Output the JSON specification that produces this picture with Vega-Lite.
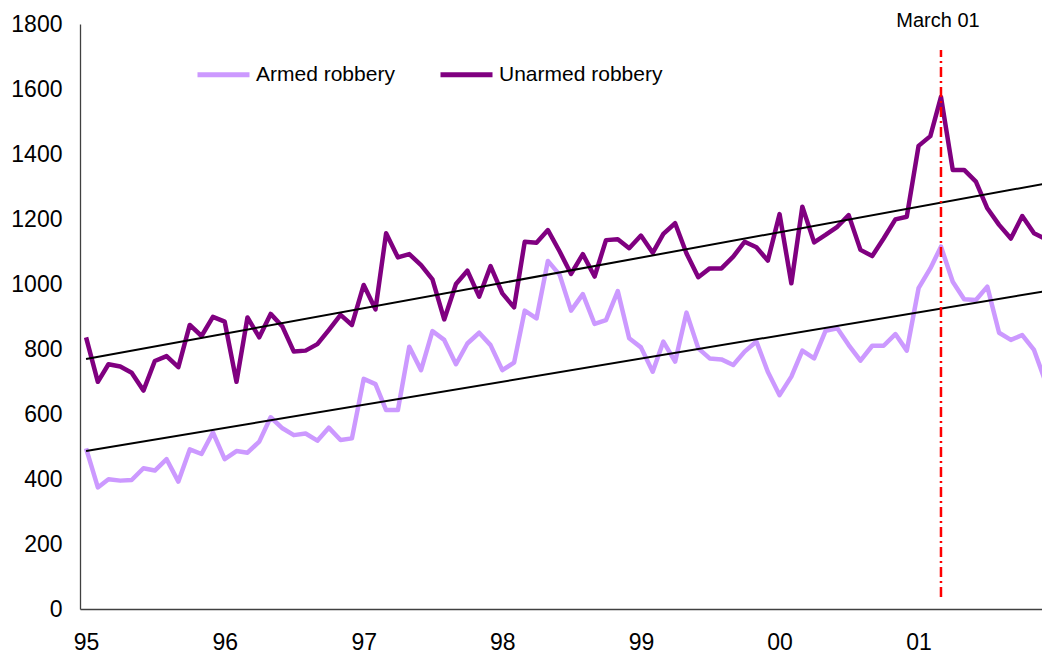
{
  "$schema": "https://vega.github.io/schema/vega-lite/v6.json",
  "width": 962,
  "height": 585,
  "autosize": {"type": "none"},
  "padding": {"left": 80, "top": 24, "right": 0, "bottom": 46},
  "background": "white",
  "config": {
    "view": {"stroke": null},
    "font": "Liberation Sans",
    "text": {"font": "Liberation Sans"}
  },
  "datasets": {
    "robbery": [
      {"date":"1995-01-01","series":"Armed robbery","value":494},{"date":"1995-02-01","series":"Armed robbery","value":374},{"date":"1995-03-01","series":"Armed robbery","value":399},{"date":"1995-04-01","series":"Armed robbery","value":395},{"date":"1995-05-01","series":"Armed robbery","value":397},{"date":"1995-06-01","series":"Armed robbery","value":433},{"date":"1995-07-01","series":"Armed robbery","value":426},{"date":"1995-08-01","series":"Armed robbery","value":461},{"date":"1995-09-01","series":"Armed robbery","value":392},{"date":"1995-10-01","series":"Armed robbery","value":491},{"date":"1995-11-01","series":"Armed robbery","value":477},{"date":"1995-12-01","series":"Armed robbery","value":543},
      {"date":"1996-01-01","series":"Armed robbery","value":461},{"date":"1996-02-01","series":"Armed robbery","value":486},{"date":"1996-03-01","series":"Armed robbery","value":481},{"date":"1996-04-01","series":"Armed robbery","value":515},{"date":"1996-05-01","series":"Armed robbery","value":590},{"date":"1996-06-01","series":"Armed robbery","value":556},{"date":"1996-07-01","series":"Armed robbery","value":535},{"date":"1996-08-01","series":"Armed robbery","value":540},{"date":"1996-09-01","series":"Armed robbery","value":518},{"date":"1996-10-01","series":"Armed robbery","value":558},{"date":"1996-11-01","series":"Armed robbery","value":520},{"date":"1996-12-01","series":"Armed robbery","value":525},
      {"date":"1997-01-01","series":"Armed robbery","value":708},{"date":"1997-02-01","series":"Armed robbery","value":692},{"date":"1997-03-01","series":"Armed robbery","value":612},{"date":"1997-04-01","series":"Armed robbery","value":612},{"date":"1997-05-01","series":"Armed robbery","value":807},{"date":"1997-06-01","series":"Armed robbery","value":735},{"date":"1997-07-01","series":"Armed robbery","value":855},{"date":"1997-08-01","series":"Armed robbery","value":828},{"date":"1997-09-01","series":"Armed robbery","value":753},{"date":"1997-10-01","series":"Armed robbery","value":817},{"date":"1997-11-01","series":"Armed robbery","value":850},{"date":"1997-12-01","series":"Armed robbery","value":812},
      {"date":"1998-01-01","series":"Armed robbery","value":735},{"date":"1998-02-01","series":"Armed robbery","value":758},{"date":"1998-03-01","series":"Armed robbery","value":918},{"date":"1998-04-01","series":"Armed robbery","value":894},{"date":"1998-05-01","series":"Armed robbery","value":1071},{"date":"1998-06-01","series":"Armed robbery","value":1028},{"date":"1998-07-01","series":"Armed robbery","value":918},{"date":"1998-08-01","series":"Armed robbery","value":969},{"date":"1998-09-01","series":"Armed robbery","value":877},{"date":"1998-10-01","series":"Armed robbery","value":889},{"date":"1998-11-01","series":"Armed robbery","value":978},{"date":"1998-12-01","series":"Armed robbery","value":833},
      {"date":"1999-01-01","series":"Armed robbery","value":805},{"date":"1999-02-01","series":"Armed robbery","value":730},{"date":"1999-03-01","series":"Armed robbery","value":823},{"date":"1999-04-01","series":"Armed robbery","value":761},{"date":"1999-05-01","series":"Armed robbery","value":912},{"date":"1999-06-01","series":"Armed robbery","value":802},{"date":"1999-07-01","series":"Armed robbery","value":771},{"date":"1999-08-01","series":"Armed robbery","value":768},{"date":"1999-09-01","series":"Armed robbery","value":751},{"date":"1999-10-01","series":"Armed robbery","value":792},{"date":"1999-11-01","series":"Armed robbery","value":823},{"date":"1999-12-01","series":"Armed robbery","value":730},
      {"date":"2000-01-01","series":"Armed robbery","value":658},{"date":"2000-02-01","series":"Armed robbery","value":715},{"date":"2000-03-01","series":"Armed robbery","value":795},{"date":"2000-04-01","series":"Armed robbery","value":771},{"date":"2000-05-01","series":"Armed robbery","value":856},{"date":"2000-06-01","series":"Armed robbery","value":864},{"date":"2000-07-01","series":"Armed robbery","value":812},{"date":"2000-08-01","series":"Armed robbery","value":764},{"date":"2000-09-01","series":"Armed robbery","value":810},{"date":"2000-10-01","series":"Armed robbery","value":810},{"date":"2000-11-01","series":"Armed robbery","value":846},{"date":"2000-12-01","series":"Armed robbery","value":795},
      {"date":"2001-01-01","series":"Armed robbery","value":987},{"date":"2001-02-01","series":"Armed robbery","value":1048},{"date":"2001-03-01","series":"Armed robbery","value":1115},{"date":"2001-04-01","series":"Armed robbery","value":1007},{"date":"2001-05-01","series":"Armed robbery","value":953},{"date":"2001-06-01","series":"Armed robbery","value":951},{"date":"2001-07-01","series":"Armed robbery","value":992},{"date":"2001-08-01","series":"Armed robbery","value":850},{"date":"2001-09-01","series":"Armed robbery","value":828},{"date":"2001-10-01","series":"Armed robbery","value":843},{"date":"2001-11-01","series":"Armed robbery","value":797},{"date":"2001-12-01","series":"Armed robbery","value":700},
      {"date":"1995-01-01","series":"Unarmed robbery","value":836},{"date":"1995-02-01","series":"Unarmed robbery","value":699},{"date":"1995-03-01","series":"Unarmed robbery","value":753},{"date":"1995-04-01","series":"Unarmed robbery","value":746},{"date":"1995-05-01","series":"Unarmed robbery","value":727},{"date":"1995-06-01","series":"Unarmed robbery","value":672},{"date":"1995-07-01","series":"Unarmed robbery","value":763},{"date":"1995-08-01","series":"Unarmed robbery","value":778},{"date":"1995-09-01","series":"Unarmed robbery","value":744},{"date":"1995-10-01","series":"Unarmed robbery","value":874},{"date":"1995-11-01","series":"Unarmed robbery","value":840},{"date":"1995-12-01","series":"Unarmed robbery","value":899},
      {"date":"1996-01-01","series":"Unarmed robbery","value":884},{"date":"1996-02-01","series":"Unarmed robbery","value":699},{"date":"1996-03-01","series":"Unarmed robbery","value":897},{"date":"1996-04-01","series":"Unarmed robbery","value":836},{"date":"1996-05-01","series":"Unarmed robbery","value":908},{"date":"1996-06-01","series":"Unarmed robbery","value":869},{"date":"1996-07-01","series":"Unarmed robbery","value":792},{"date":"1996-08-01","series":"Unarmed robbery","value":795},{"date":"1996-09-01","series":"Unarmed robbery","value":815},{"date":"1996-10-01","series":"Unarmed robbery","value":858},{"date":"1996-11-01","series":"Unarmed robbery","value":905},{"date":"1996-12-01","series":"Unarmed robbery","value":874},
      {"date":"1997-01-01","series":"Unarmed robbery","value":997},{"date":"1997-02-01","series":"Unarmed robbery","value":922},{"date":"1997-03-01","series":"Unarmed robbery","value":1156},{"date":"1997-04-01","series":"Unarmed robbery","value":1082},{"date":"1997-05-01","series":"Unarmed robbery","value":1092},{"date":"1997-06-01","series":"Unarmed robbery","value":1058},{"date":"1997-07-01","series":"Unarmed robbery","value":1014},{"date":"1997-08-01","series":"Unarmed robbery","value":891},{"date":"1997-09-01","series":"Unarmed robbery","value":1000},{"date":"1997-10-01","series":"Unarmed robbery","value":1041},{"date":"1997-11-01","series":"Unarmed robbery","value":961},{"date":"1997-12-01","series":"Unarmed robbery","value":1055},
      {"date":"1998-01-01","series":"Unarmed robbery","value":971},{"date":"1998-02-01","series":"Unarmed robbery","value":928},{"date":"1998-03-01","series":"Unarmed robbery","value":1130},{"date":"1998-04-01","series":"Unarmed robbery","value":1127},{"date":"1998-05-01","series":"Unarmed robbery","value":1166},{"date":"1998-06-01","series":"Unarmed robbery","value":1100},{"date":"1998-07-01","series":"Unarmed robbery","value":1031},{"date":"1998-08-01","series":"Unarmed robbery","value":1092},{"date":"1998-09-01","series":"Unarmed robbery","value":1023},{"date":"1998-10-01","series":"Unarmed robbery","value":1135},{"date":"1998-11-01","series":"Unarmed robbery","value":1138},{"date":"1998-12-01","series":"Unarmed robbery","value":1110},
      {"date":"1999-01-01","series":"Unarmed robbery","value":1149},{"date":"1999-02-01","series":"Unarmed robbery","value":1096},{"date":"1999-03-01","series":"Unarmed robbery","value":1154},{"date":"1999-04-01","series":"Unarmed robbery","value":1187},{"date":"1999-05-01","series":"Unarmed robbery","value":1094},{"date":"1999-06-01","series":"Unarmed robbery","value":1021},{"date":"1999-07-01","series":"Unarmed robbery","value":1048},{"date":"1999-08-01","series":"Unarmed robbery","value":1048},{"date":"1999-09-01","series":"Unarmed robbery","value":1084},{"date":"1999-10-01","series":"Unarmed robbery","value":1130},{"date":"1999-11-01","series":"Unarmed robbery","value":1113},{"date":"1999-12-01","series":"Unarmed robbery","value":1072},
      {"date":"2000-01-01","series":"Unarmed robbery","value":1215},{"date":"2000-02-01","series":"Unarmed robbery","value":1002},{"date":"2000-03-01","series":"Unarmed robbery","value":1238},{"date":"2000-04-01","series":"Unarmed robbery","value":1128},{"date":"2000-05-01","series":"Unarmed robbery","value":1151},{"date":"2000-06-01","series":"Unarmed robbery","value":1176},{"date":"2000-07-01","series":"Unarmed robbery","value":1212},{"date":"2000-08-01","series":"Unarmed robbery","value":1105},{"date":"2000-09-01","series":"Unarmed robbery","value":1086},{"date":"2000-10-01","series":"Unarmed robbery","value":1140},{"date":"2000-11-01","series":"Unarmed robbery","value":1199},{"date":"2000-12-01","series":"Unarmed robbery","value":1207},
      {"date":"2001-01-01","series":"Unarmed robbery","value":1425},{"date":"2001-02-01","series":"Unarmed robbery","value":1455},{"date":"2001-03-01","series":"Unarmed robbery","value":1576},{"date":"2001-04-01","series":"Unarmed robbery","value":1351},{"date":"2001-05-01","series":"Unarmed robbery","value":1351},{"date":"2001-06-01","series":"Unarmed robbery","value":1315},{"date":"2001-07-01","series":"Unarmed robbery","value":1233},{"date":"2001-08-01","series":"Unarmed robbery","value":1182},{"date":"2001-09-01","series":"Unarmed robbery","value":1140},{"date":"2001-10-01","series":"Unarmed robbery","value":1209},{"date":"2001-11-01","series":"Unarmed robbery","value":1156},{"date":"2001-12-01","series":"Unarmed robbery","value":1139}
    ],
    "trend": [
      {"date":"1995-01-01","series":"Armed trend","value":486},
      {"date":"2001-12-01","series":"Armed trend","value":978},
      {"date":"1995-01-01","series":"Unarmed trend","value":769},
      {"date":"2001-12-01","series":"Unarmed trend","value":1309}
    ],
    "marker": [
      {"date":"2001-03-01","low":37,"high":1720,"labelY":1810,"label":"March 01"}
    ]
  },
  "encoding": {
    "x": {
      "field": "date",
      "type": "temporal",
      "scale": {
        "type": "utc",
        "domain": [
          {"year": 1994, "month": 12, "date": 16, "utc": true},
          {"year": 2001, "month": 11, "date": 22, "utc": true}
        ]
      },
      "axis": {
        "title": null,
        "values": [
          {"year": 1995, "month": 1, "date": 1, "utc": true},
          {"year": 1996, "month": 1, "date": 1, "utc": true},
          {"year": 1997, "month": 1, "date": 1, "utc": true},
          {"year": 1998, "month": 1, "date": 1, "utc": true},
          {"year": 1999, "month": 1, "date": 1, "utc": true},
          {"year": 2000, "month": 1, "date": 1, "utc": true},
          {"year": 2001, "month": 1, "date": 1, "utc": true}
        ],
        "labelExpr": "utcFormat(datum.value, '%y')",
        "ticks": false,
        "grid": false,
        "labelFontSize": 23,
        "labelColor": "#000000",
        "labelPadding": 22,
        "labelFont": "Liberation Sans",
        "domainColor": "#404040",
        "domainWidth": 1.3,
        "labelFlush": false,
        "labelOverlap": false
      }
    }
  },
  "layer": [
    {
      "data": {"name": "robbery"},
      "mark": {"type": "line", "strokeWidth": 4.5, "strokeJoin": "round", "clip": true},
      "encoding": {
        "y": {
          "field": "value",
          "type": "quantitative",
          "scale": {"domain": [0, 1800], "nice": false, "zero": true},
          "axis": {
            "title": null,
            "values": [0, 200, 400, 600, 800, 1000, 1200, 1400, 1600, 1800],
            "format": "d",
            "ticks": false,
            "grid": false,
            "labelFontSize": 23,
            "labelColor": "#000000",
            "labelPadding": 18,
            "labelFont": "Liberation Sans",
            "domainColor": "#404040",
            "domainWidth": 1.3,
            "labelFlush": false,
            "labelOverlap": false
          }
        },
        "color": {
          "field": "series",
          "type": "nominal",
          "scale": {"domain": ["Armed robbery", "Unarmed robbery"], "range": ["#CC99FF", "#800080"]},
          "legend": {
            "title": null,
            "orient": "none",
            "legendX": 115,
            "legendY": 22,
            "direction": "horizontal",
            "symbolType": "stroke",
            "symbolSize": 2704,
            "symbolStrokeWidth": 5,
            "labelFontSize": 21,
            "labelFont": "Liberation Sans",
            "labelColor": "#000000",
            "labelOffset": 4,
            "labelLimit": 400,
            "columnPadding": 35,
            "padding": 0
          }
        }
      }
    },
    {
      "data": {"name": "trend"},
      "mark": {"type": "line", "color": "#000000", "strokeWidth": 2, "clip": true},
      "encoding": {
        "y": {"field": "value", "type": "quantitative"},
        "detail": {"field": "series", "type": "nominal"}
      }
    },
    {
      "data": {"name": "marker"},
      "mark": {"type": "rule", "color": "#FF0000", "strokeWidth": 2.5, "strokeDash": [10, 4, 2, 4]},
      "encoding": {
        "y": {"field": "low", "type": "quantitative"},
        "y2": {"field": "high"}
      }
    },
    {
      "data": {"name": "marker"},
      "mark": {"type": "text", "fontSize": 20, "font": "Liberation Sans", "color": "#000000", "align": "center", "baseline": "middle", "dx": -3},
      "encoding": {
        "y": {"field": "labelY", "type": "quantitative"},
        "text": {"field": "label"}
      }
    }
  ]
}
